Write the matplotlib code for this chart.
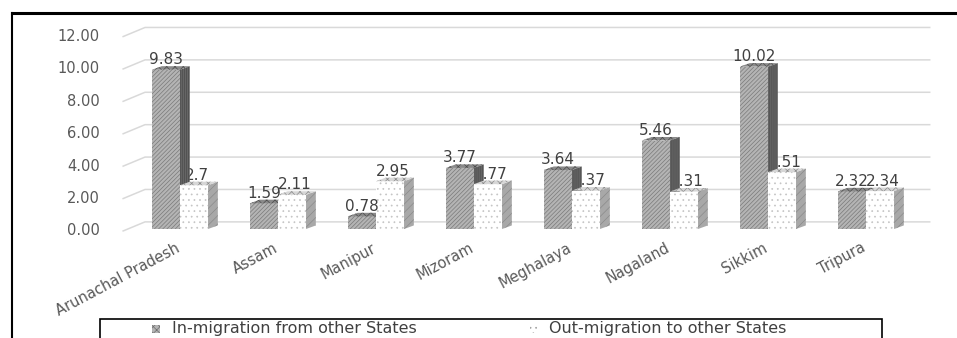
import numpy as np
import matplotlib
matplotlib.use("Agg")
import matplotlib.pyplot as plt
from matplotlib.patches import Polygon, Rectangle
from matplotlib.lines import Line2D

states = ["Arunachal Pradesh", "Assam", "Manipur", "Mizoram",
          "Meghalaya", "Nagaland", "Sikkim", "Tripura"]
in_mig = [9.83, 1.59, 0.78, 3.77, 3.64, 5.46, 10.02, 2.32]
out_mig = [2.7, 2.11, 2.95, 2.77, 2.37, 2.31, 3.51, 2.34]
yticks = [0, 2, 4, 6, 8, 10, 12]
in_label = "In-migration from other States"
out_label = "Out-migration to other States"

W, H = 957, 338
plt.rcParams["hatch.linewidth"] = 0.5

fig = plt.figure(figsize=(W / 100, H / 100), dpi=100)

def fx(p):
    return p / W

def fy(p):
    return 1 - p / H

# plot area: category i centred at 180 + 98*i px, value 0 at y=229 px
ax = fig.add_axes([fx(131), fy(229), 784 / W, 216 / H])
ax.set_xlim(-0.5, 7.5)
ax.set_ylim(0, 216 / 16.2)
ax.axis("off")

x = np.arange(len(states))
w = 0.286          # bar width
dx, dy = 0.10, 0.22  # depth of the 3d boxes

# back-wall gridlines with the short perspective stub on the left
for v in yticks:
    ax.plot([-0.58, -0.357, 7.65], [v - 0.12, v + 0.44, v + 0.44],
            color="#d9d9d9", lw=1.1, clip_on=False, zorder=1)
    ax.text(-0.816, v - 0.12, f"{v:.2f}", ha="right", va="center",
            fontsize=10.5, color="#595959")

def box(x0, v, face, side, top, hatch_f, hatch_s, hc_f, hc_s, z):
    ax.bar(x0 + w / 2, v, width=w, facecolor=face, edgecolor=hc_f,
           linewidth=0, hatch=hatch_f, zorder=z)
    x1 = x0 + w
    ax.add_patch(Polygon([(x1, 0), (x1 + dx, dy), (x1 + dx, v + dy), (x1, v)],
                         closed=True, facecolor=side, edgecolor=hc_s,
                         linewidth=0, hatch=hatch_s, zorder=z))
    ax.add_patch(Polygon([(x0, v), (x0 + dx, v + dy), (x1 + dx, v + dy), (x1, v)],
                         closed=True, facecolor=top, edgecolor=hc_s,
                         linewidth=0, hatch="xxxx", zorder=z))

for i in range(len(states)):
    # out-migration labels sit behind the in-migration boxes
    ax.text(x[i] + w / 2 + 0.03, out_mig[i] + 0.62, str(out_mig[i]), ha="center",
            va="center", fontsize=11, color="#404040", zorder=2)
    box(x[i] - w, in_mig[i], "#b4b4b4", "#666666", "#8a8a8a",
        "////////", "||||||||", "#7a7a7a", "#4a4a4a", 3)
    box(x[i], out_mig[i], "white", "#a8a8a8", "#d6d6d6",
        "...", "////", "#c4c4c4", "#8a8a8a", 3)
    ax.text(x[i] - w / 2, in_mig[i] + 0.62, f"{in_mig[i]:.2f}", ha="center",
            va="center", fontsize=11, color="#404040", zorder=5)

for i, s in enumerate(states):
    ax.text(x[i] - 0.05, -0.7, s, rotation=28, rotation_mode="anchor",
            ha="right", va="top", fontsize=10.5, color="#595959")

# chart frame
fig.add_artist(Line2D([fx(12), 1], [fy(13), fy(13)], color="black", lw=2.2))
fig.add_artist(Line2D([fx(12), fx(12)], [fy(13), 0], color="black", lw=1.5))

# legend box
fig.add_artist(Rectangle((fx(100), fy(346)), fx(882) - fx(100), fy(319) - fy(346),
                         transform=fig.transFigure, facecolor="white",
                         edgecolor="black", lw=1.2))
fig.add_artist(Rectangle((fx(152), fy(333)), 8 / W, 8 / H,
                         transform=fig.transFigure, facecolor="#b4b4b4",
                         edgecolor="#6e6e6e", lw=0, hatch="xxxxx"))
fig.add_artist(Rectangle((fx(530), fy(333)), 8 / W, 8 / H,
                         transform=fig.transFigure, facecolor="white",
                         edgecolor="#a0a0a0", lw=0, hatch="..."))
fig.text(fx(172), fy(329), in_label, ha="left", va="center",
         fontsize=11.5, color="#404040")
fig.text(fx(549), fy(329), out_label, ha="left", va="center",
         fontsize=11.5, color="#404040")

fig.savefig("out.png", dpi=100)
